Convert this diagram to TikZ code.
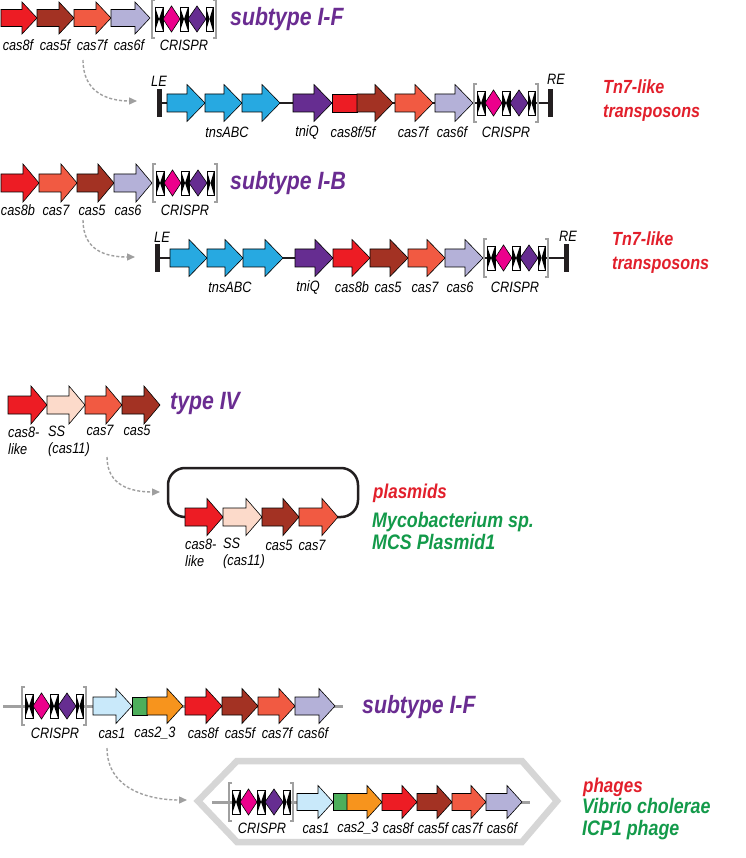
\documentclass[tikz,border=0pt]{standalone}
\usepackage{fontspec}
\setmainfont{Liberation Sans}[FakeStretch=0.85]
\usetikzlibrary{arrows.meta}

\definecolor{ccaseight}{HTML}{ED1C24}
\definecolor{ccasfive}{HTML}{A33223}
\definecolor{ccasseven}{HTML}{F15A42}
\definecolor{ccassix}{HTML}{B4B1D8}
\definecolor{ctns}{HTML}{27A9E1}
\definecolor{ctniq}{HTML}{662D91}
\definecolor{css}{HTML}{FCDACA}
\definecolor{ccasone}{HTML}{C9E9FA}
\definecolor{ccastwo}{HTML}{4DAF5B}
\definecolor{ccastwothree}{HTML}{F7941D}
\definecolor{cmag}{HTML}{EC008C}
\definecolor{cpurp}{HTML}{662D91}
\definecolor{ctitle}{HTML}{6A2C91}
\definecolor{chostred}{HTML}{E21F2B}
\definecolor{chostgreen}{HTML}{139A4A}
\definecolor{cbrk}{HTML}{A0A0A0}
\definecolor{cbar}{HTML}{231F20}

\tikzset{
  gene/.style={draw=black, line width=0.6pt},
  brk/.style={draw=cbrk, line width=2.2pt},
  glab/.style={font=\itshape\fontsize{15}{17}\selectfont, inner sep=0pt},
  ttl/.style={font=\bfseries\itshape\fontsize{25}{27}\selectfont, text=ctitle, anchor=west, inner sep=0pt},
  tntxt/.style={font=\bfseries\itshape\fontsize{19}{24}\selectfont, text=chostred, anchor=west, align=left, inner sep=0pt},
  hosttxt/.style={font=\bfseries\itshape\fontsize{20}{22}\selectfont, text=chostred, anchor=west, inner sep=0pt},
  strntxt/.style={font=\bfseries\itshape\fontsize{21}{22}\selectfont, text=chostgreen, anchor=west, align=left, inner sep=0pt},
  endbar/.style={fill=cbar, minimum width=5pt, minimum height=28pt, inner sep=0pt},
  tnline/.style={line width=2.5pt, draw=cbar},
  gline/.style={line width=3pt, draw=cbrk},
  hop/.style={draw=gray!75, line width=1.4pt, dash pattern=on 3pt off 2pt,
    -{Triangle[length=8pt,width=7pt,fill=gray!75]}},
}

% gene row settings: centre y, body half height, head half height, head length
\newcommand{\generow}[4]{\def\gY{#1}\def\gBH{#2}\def\gHH{#3}\def\gHL{#4}}
\newcommand{\gene}[3]{%
  \filldraw[gene,fill=#3] (#1,\gY-\gBH) -- ({#2-\gHL},\gY-\gBH) -- ({#2-\gHL},\gY-\gHH)
    -- (#2,\gY) -- ({#2-\gHL},\gY+\gHH) -- ({#2-\gHL},\gY+\gBH) -- (#1,\gY+\gBH) -- cycle;}
\newcommand{\genebox}[3]{\filldraw[gene,fill=#3] (#1,\gY-\gBH) rectangle (#2,\gY+\gBH);}
\newcommand{\rep}[2]{%
  \fill[white] (#1,-12) rectangle (#2,12);
  \fill (#1,-12) -- ({(#1+#2)/2},0) -- (#1,12) -- cycle;
  \fill (#2,-12) -- ({(#1+#2)/2},0) -- (#2,12) -- cycle;
  \draw[gene] (#1,-12) rectangle (#2,12);}
\newcommand{\crispr}[2]{%
  \begin{scope}[shift={(#1,#2)}]
    \draw[brk] (3,-19) -- (0,-19) -- (0,19) -- (3,19);
    \draw[brk] (61,-19) -- (64,-19) -- (64,19) -- (61,19);
    \rep{3}{11} \rep{28}{36} \rep{54}{61}
    \filldraw[gene,fill=cmag] (11,0) -- (19.5,-13) -- (28,0) -- (19.5,13) -- cycle;
    \filldraw[gene,fill=cpurp] (36,0) -- (45,-13) -- (54,0) -- (45,13) -- cycle;
  \end{scope}}

\begin{document}
\begin{tikzpicture}[x=1pt,y=-1pt]
\useasboundingbox[fill=white] (0,0) rectangle (745,858);

% subtype I-F
\generow{18}{8.5}{16}{15}
\gene{1}{37}{ccaseight} \gene{37}{74}{ccasfive} \gene{74}{111}{ccasseven} \gene{111}{150}{ccassix}
\crispr{152}{19}
\node[glab] (f8) at (18,45) {cas8f};
\node[glab] (f5) at (55,45) {cas5f};
\node[glab] (f7) at (92,45) {cas7f};
\node[glab] (f6) at (129,45) {cas6f};
\node[glab] (fcr) at (184,45) {CRISPR};
\node[ttl] (tif) at (230,19) {subtype I-F};

\coordinate (a1) at (83,60);
\coordinate (b1) at (137,101);
\draw[hop] (a1) .. controls +(0,32) and +(-30,0) .. (b1);

% Tn7-like with I-F
\node[endbar] (le1) at (159.5,103) {};
\node[endbar] (re1) at (550.5,103) {};
\draw[tnline] (le1) -- (re1);
\generow{103}{9}{18.5}{18}
\gene{167}{205}{ctns} \gene{205}{242}{ctns} \gene{242}{280}{ctns}
\gene{293}{332}{ctniq}
\genebox{332}{357}{ccaseight} \gene{357}{393}{ccasfive}
\gene{395}{433}{ccasseven} \gene{435}{473}{ccassix}
\crispr{474}{103}
\node[glab] (lel1) at (159,81) {LE};
\node[glab] (rel1) at (556,79) {RE};
\node[glab] (tns1) at (227,132) {tnsABC};
\node[glab] (tq1) at (307,132) {tniQ};
\node[glab] (t85) at (353,132) {cas8f/5f};
\node[glab] (t7) at (413,132) {cas7f};
\node[glab] (t6) at (452,132) {cas6f};
\node[glab] (tcr1) at (506,132) {CRISPR};
\node[tntxt] (tn1) at (603,101) {Tn7-like\\transposons};

% subtype I-B
\generow{183}{9}{19}{16}
\gene{1}{39}{ccaseight} \gene{39}{77}{ccasseven} \gene{77}{114}{ccasfive} \gene{114}{152}{ccassix}
\crispr{153}{183}
\node[glab] (b8) at (18,210) {cas8b};
\node[glab] (b7) at (56,210) {cas7};
\node[glab] (b5) at (92,210) {cas5};
\node[glab] (b6) at (128,210) {cas6};
\node[glab] (bcr) at (185,210) {CRISPR};
\node[ttl] (tib) at (230,183) {subtype I-B};

\coordinate (a2) at (83,220);
\coordinate (b2) at (135,257);
\draw[hop] (a2) .. controls +(0,30) and +(-30,0) .. (b2);

% Tn7-like with I-B
\node[endbar] (le2) at (157.5,258) {};
\node[endbar] (re2) at (566.5,258) {};
\draw[tnline] (le2) -- (re2);
\generow{258}{9}{18.5}{18}
\gene{170}{207}{ctns} \gene{207}{243}{ctns} \gene{243}{283}{ctns}
\gene{295}{333}{ctniq}
\gene{333}{370}{ccaseight} \gene{370}{408}{ccasfive}
\gene{408}{445}{ccasseven} \gene{445}{483}{ccassix}
\crispr{484}{258}
\node[glab] (lel2) at (162,237) {LE};
\node[glab] (rel2) at (568,236) {RE};
\node[glab] (tns2) at (230,287) {tnsABC};
\node[glab] (tq2) at (308,287) {tniQ};
\node[glab] (u8) at (352,287) {cas8b};
\node[glab] (u5) at (388,287) {cas5};
\node[glab] (u7) at (425,287) {cas7};
\node[glab] (u6) at (460,287) {cas6};
\node[glab] (tcr2) at (515,287) {CRISPR};
\node[tntxt] (tn2) at (612,253) {Tn7-like\\transposons};

% type IV
\generow{405}{9}{19}{16}
\gene{8}{47}{ccaseight} \gene{47}{85}{css} \gene{85}{122}{ccasseven} \gene{122}{160}{ccasfive}
\node[glab,anchor=west,align=left] (v8) at (8,441) {cas8-\\like};
\node[glab,anchor=west,align=left] (vss) at (48,441) {SS\\(cas11)};
\node[glab] (v7) at (100,430) {cas7};
\node[glab] (v5) at (137,430) {cas5};
\node[ttl] (tiv) at (170,403) {type IV};

\coordinate (a3) at (107,457);
\coordinate (b3) at (160,492);
\draw[hop] (a3) .. controls +(0,28) and +(-30,0) .. (b3);

% plasmid
\draw[tnline,rounded corners=17pt] (168,468) rectangle (358,517);
\generow{517}{9}{18.5}{16}
\gene{185}{223}{ccaseight} \gene{223}{262}{css} \gene{262}{299}{ccasfive} \gene{299}{338}{ccasseven}
\node[glab,anchor=west,align=left] (p8) at (185,553) {cas8-\\like};
\node[glab,anchor=west,align=left] (pss) at (223,553) {SS\\(cas11)};
\node[glab] (p5) at (279,545) {cas5};
\node[glab] (p7) at (312,545) {cas7};
\node[hosttxt] (hpl) at (373,493) {plasmids};
\node[strntxt] (spl) at (372,531) {Mycobacterium sp.\\MCS Plasmid1};

% subtype I-F, phage origin
\draw[gline] (3,706) -- (343,706);
\generow{706}{9}{17.5}{16}
\crispr{22}{706}
\gene{93}{132}{ccasone} \genebox{132}{147}{ccastwo} \gene{147}{183}{ccastwothree}
\gene{185}{222}{ccaseight} \gene{222}{258}{ccasfive} \gene{258}{295}{ccasseven} \gene{295}{335}{ccassix}
\node[glab] (gcr) at (55,733) {CRISPR};
\node[glab] (g1) at (112,733) {cas1};
\node[glab] (g23) at (155,733) {cas2\_3};
\node[glab] (g8) at (203,733) {cas8f};
\node[glab] (g5) at (240,733) {cas5f};
\node[glab] (g7) at (277,733) {cas7f};
\node[glab] (g6) at (313,733) {cas6f};
\node[ttl] (tif2) at (362,707) {subtype I-F};

\coordinate (a4) at (107,748);
\coordinate (b4) at (187,800);
\draw[hop] (a4) .. controls +(0,40) and +(-40,0) .. (b4);

% phage
\draw[line width=6.5pt, draw=gray!32, line join=miter] (198,801) -- (237,761) -- (522,761)
  -- (557,801) -- (522,842) -- (237,842) -- cycle;
\draw[gline] (212,802) -- (530,802);
\generow{802}{8.5}{16.5}{15}
\crispr{229}{802}
\gene{297}{333}{ccasone} \genebox{333}{347}{ccastwo} \gene{347}{382}{ccastwothree}
\gene{382}{417}{ccaseight} \gene{417}{452}{ccasfive} \gene{452}{486}{ccasseven} \gene{486}{522}{ccassix}
\node[glab] (hcr) at (262,828) {CRISPR};
\node[glab] (h1) at (316,828) {cas1};
\node[glab] (h23) at (358,828) {cas2\_3};
\node[glab] (h8) at (398,828) {cas8f};
\node[glab] (h5) at (433,828) {cas5f};
\node[glab] (h7) at (467,828) {cas7f};
\node[glab] (h6) at (502,828) {cas6f};
\node[hosttxt] (hph) at (583,787) {phages};
\node[strntxt] (sph) at (582,819) {Vibrio cholerae\\ICP1 phage};
\end{tikzpicture}
\end{document}
